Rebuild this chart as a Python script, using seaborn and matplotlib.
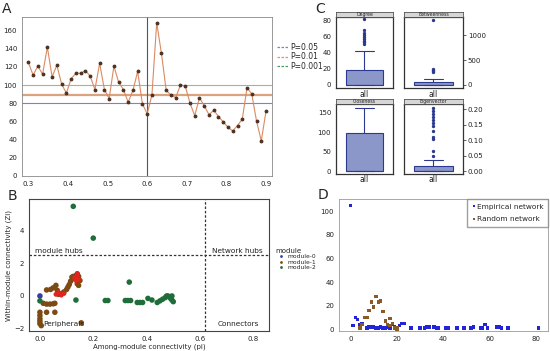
import matplotlib
matplotlib.use("Agg")
import matplotlib.pyplot as plt
import seaborn as sns
import pandas as pd
from matplotlib.lines import Line2D

sns.set_style("white")
plt.rcParams["font.family"] = ["DejaVu Sans"]

# -------------------------
# Panel A data
# -------------------------
a_x = [0.300, 0.312, 0.324, 0.336, 0.348, 0.360, 0.372, 0.384, 0.396, 0.408,
       0.420, 0.432, 0.444, 0.456, 0.468, 0.480, 0.492, 0.504, 0.516, 0.528,
       0.540, 0.552, 0.564, 0.576, 0.588, 0.600, 0.612, 0.624, 0.636, 0.648,
       0.660, 0.672, 0.684, 0.696, 0.708, 0.720, 0.732, 0.744, 0.756, 0.768,
       0.780, 0.792, 0.804, 0.816, 0.828, 0.840, 0.852, 0.864, 0.876, 0.888, 0.900]
a_y = [125, 111, 121, 112, 142, 109, 122, 101, 91, 107,
       113, 113, 116, 110, 95, 124, 95, 85, 121, 103,
       95, 81, 94, 115, 79, 68, 89, 169, 135, 94,
       89, 86, 100, 99, 80, 66, 86, 77, 67, 72,
       65, 59, 53, 49, 55, 62, 97, 90, 60, 38, 71]
a_cut = 0.6
p_labels = ["P=0.05", "P=0.01", "P=0.001"]
p_values = [80, 89, 100]
p_colors = ["#7F7FCF", "#D9A37F", "#8CC08C"]
p_leg_colors = ["#7F7FCF", "#E0906A", "#4E9A6A"]

# -------------------------
# Panel B data
# -------------------------
m0_x = [0.0]
m0_y = [0.0]
m1_x = [0.0, 0.0, 0.0, 0.0, 0.0, 0.005, 0.0125, 0.025, 0.0375, 0.05, 0.056,
        0.025, 0.056, 0.025, 0.04, 0.05, 0.06, 0.065, 0.07, 0.08, 0.09, 0.1,
        0.105, 0.11, 0.115, 0.12, 0.125, 0.13, 0.135, 0.14, 0.145, 0.15,
        0.14, 0.145, 0.155]
m1_y = [-1.0, -1.2, -1.4, -1.55, -1.7, -1.82, -0.45, -0.5, -0.5, -0.48, -0.45,
        -1.0, -1.0, 0.37, 0.4, 0.5, 0.65, 0.35, 0.1, 0.15, 0.25, 0.4,
        0.55, 0.7, 0.9, 1.15, 1.2, 1.05, 1.25, 1.35, 1.2, 0.95,
        0.75, 0.65, -1.65]
m2_x = [0.125, 0.2, 0.335, 0.0, 0.135, 0.245, 0.255, 0.32, 0.33, 0.34, 0.365,
        0.375, 0.385, 0.405, 0.42, 0.44, 0.45, 0.46, 0.47, 0.475, 0.48, 0.485,
        0.49, 0.495, 0.5, 0.495]
m2_y = [5.5, 3.55, 0.85, -0.3, -0.25, -0.28, -0.28, -0.28, -0.28, -0.28, -0.4,
        -0.4, -0.4, -0.15, -0.25, -0.4, -0.3, -0.2, -0.1, 0.0, 0.0, -0.05,
        -0.15, -0.25, -0.35, 0.0]
red_x = [0.06, 0.07, 0.08, 0.09, 0.13, 0.135, 0.14, 0.145, 0.14]
red_y = [0.1, 0.2, 0.05, 0.15, 1.1, 0.95, 1.25, 1.0, 1.38]
zi_cut = 2.5
pi_cut = 0.62

# -------------------------
# Panel C data (node centralities)
# -------------------------
degree = [0] * 30 + [1, 2, 3, 4, 5, 6, 8, 10, 12, 14, 16, 18, 20, 24, 28, 34, 42,
                     51, 53, 55, 57, 59, 62, 65, 68, 82]
betweenness = [0] * 31 + [1, 2, 3, 5, 7, 9, 12, 15, 20, 25, 30, 38, 45, 48, 56,
                          60, 65, 70, 75, 80, 85, 90, 100, 115, 250, 270, 290, 310, 1320]
closeness = [0] * 21 + [5, 10, 20, 35, 50, 65, 80, 90, 97, 99,
                        105, 112, 120, 128, 135, 142, 150, 157, 163]
eigenvector = [0] * 31 + [0.001, 0.002, 0.003, 0.004, 0.005, 0.006, 0.007, 0.008,
                          0.009, 0.01, 0.012, 0.014, 0.016, 0.017, 0.021,
                          0.025, 0.035, 0.05, 0.065, 0.105, 0.11, 0.13, 0.145,
                          0.155, 0.165, 0.175, 0.185, 0.195, 0.205]

# -------------------------
# Panel D data
# -------------------------
emp_x = [0, 1, 2, 3, 4, 5, 5, 7, 8, 9, 10, 11, 12, 13, 14, 15, 16, 17, 18, 19,
         20, 21, 22, 23, 26, 30, 32, 33, 34, 36, 37, 38, 41, 42, 46, 49, 52, 53,
         56, 57, 58, 59, 63, 64, 65, 68, 81]
emp_y = [105, 3, 10, 8, 4, 5, 4, 1, 2, 2, 2, 1, 1, 2, 1, 1, 2, 1, 4, 2,
         1, 3, 5, 5, 1, 1, 1, 2, 2, 2, 1, 1, 1, 1, 1, 1, 1, 2,
         1, 1, 4, 1, 2, 2, 1, 1, 1]
rnd_x = [4, 5, 6, 7, 8, 9, 10, 11, 12, 13, 14, 15, 16, 17, 17, 18, 19, 20, 20]
rnd_y = [1, 4, 10, 10, 16, 23, 19, 28, 23, 24, 15, 7, 4, 9, 3, 5, 1, 1, 0]


fig = plt.figure(figsize=(5.5, 3.51), dpi=100)


def frame(ax, color, lw):
    for s in ax.spines.values():
        s.set_visible(True)
        s.set_color(color)
        s.set_linewidth(lw)
    ax.tick_params(labelsize=5, length=2, width=0.5, pad=1.5, colors="#222222")


# -------------------------
# A: threshold scan
# -------------------------
axA = fig.add_axes([0.04, 0.4986, 0.4545, 0.453])
for v, c, lw in zip(p_values, p_colors, [0.8, 1.6, 0.8]):
    axA.axhline(v, color=c, lw=lw, zorder=1)
axA.axvline(a_cut, color="#555555", lw=0.8, zorder=1)
sns.lineplot(x=a_x, y=a_y, ax=axA, color="#DB8A62", lw=0.8, marker="o",
             markersize=2, markerfacecolor="#4A3020", markeredgecolor="#4A3020",
             zorder=3)
axA.set_xlim(0.284, 0.915)
axA.set_ylim(-1, 175.5)
axA.set_xticks([0.3, 0.4, 0.5, 0.6, 0.7, 0.8, 0.9])
axA.set_yticks(range(0, 161, 20))
frame(axA, "#888888", 0.6)
leg_h = [Line2D([0], [0], color=c, lw=0.9, ls=(0, (2, 1.2))) for c in p_leg_colors]
axA.legend(leg_h, p_labels, loc="upper left", bbox_to_anchor=(273 / 550, 1 - 39 / 351),
           bbox_transform=fig.transFigure, frameon=False, fontsize=5.5,
           handlelength=1.4, handletextpad=0.3, labelspacing=0.05, borderpad=0)
fig.text(0.004, 0.995, "A", fontsize=10, va="top")

# -------------------------
# B: Zi-Pi plot
# -------------------------
axB = fig.add_axes([0.0527, 0.057, 0.4364, 0.376])
zp = pd.DataFrame({
    "pi": m0_x + m1_x + m2_x,
    "zi": m0_y + m1_y + m2_y,
    "module": ["module-0"] * len(m0_x) + ["module-1"] * len(m1_x) + ["module-2"] * len(m2_x),
})
sns.scatterplot(data=zp, x="pi", y="zi", hue="module", ax=axB, s=16,
                palette={"module-0": "#3A3AA8", "module-1": "#7E4A14", "module-2": "#1F6E3A"},
                edgecolor="none", zorder=3)
sns.scatterplot(x=red_x, y=red_y, ax=axB, s=12, color="#E3231E", edgecolor="none",
                zorder=4, legend=False)
axB.axhline(zi_cut, color="#333333", lw=0.9, ls=(0, (2, 1.5)))
axB.axvline(pi_cut, color="#333333", lw=0.9, ls=(0, (2, 1.5)))
axB.set_xlim(-0.041, 0.859)
axB.set_ylim(-2.15, 5.95)
axB.set_xticks([0.0, 0.2, 0.4, 0.6, 0.8])
axB.set_yticks([-2, 0, 2, 4])
axB.set_xlabel("Among-module connectivity (pi)", fontsize=5, labelpad=1.5)
axB.set_ylabel("Within-module connectivity (Zi)", fontsize=5, labelpad=1)
frame(axB, "#444444", 0.8)
for tx, ty, s in [(0.07, 2.78, "module hubs"), (0.74, 2.78, "Network hubs"),
                  (0.09, -1.72, "Peripherals"), (0.745, -1.72, "Connectors")]:
    axB.text(tx, ty, s, fontsize=5.3, ha="center", va="center", color="#222222")
h, l = axB.get_legend_handles_labels()
axB.legend(h, l, title="module", loc="upper left", bbox_to_anchor=(272 / 550, 1 - 245 / 351),
           bbox_transform=fig.transFigure, frameon=False, fontsize=4.3, title_fontsize=5,
           markerscale=0.5, handletextpad=0.1, labelspacing=0.05, borderpad=0,
           alignment="left")
fig.text(0.014, 1 - 189 / 351, "B", fontsize=10, va="top")

# -------------------------
# C: centrality boxplots
# -------------------------
c_panels = [
    ("Degree", degree, [0.6109, 0.7493, 0.1036, 0.2023], (-4, 84.5), [0, 20, 40, 60, 80], "left"),
    ("Betweenness", betweenness, [0.7345, 0.7493, 0.1073, 0.2023], (-66, 1374), [0, 500, 1000], "right"),
    ("Closeness", closeness, [0.6109, 0.505, 0.1036, 0.1994], (-6.9, 173.7), [0, 50, 100, 150], "left"),
    ("Eigenvector", eigenvector, [0.7345, 0.505, 0.1073, 0.1994], (-0.0086, 0.218),
     [0.0, 0.05, 0.10, 0.15, 0.20], "right"),
]
for name, vals, rect, ylim, yt, side in c_panels:
    ax = fig.add_axes(rect)
    sns.boxplot(x=["all"] * len(vals), y=vals, ax=ax, color="#8C97C9", saturation=1,
                width=0.65, linecolor="#2B3990", linewidth=0.8,
                flierprops={"marker": "o", "markersize": 1.4, "markerfacecolor": "#2B3990",
                            "markeredgecolor": "#2B3990"})
    ax.set_ylim(*ylim)
    ax.set_yticks(yt)
    if name == "Eigenvector":
        ax.set_yticklabels([f"{t:.2f}" for t in yt])
    ax.set_xlabel("")
    ax.set_ylabel("")
    frame(ax, "#333333", 0.9)
    ax.tick_params(axis="x", labelsize=5.5, pad=0.2, length=1)
    if side == "right":
        ax.yaxis.tick_right()
    # facet strip
    sx = fig.add_axes([rect[0], rect[1] + rect[3], rect[2], 0.013])
    sx.set_facecolor("#D6D6D6")
    sx.set_xticks([])
    sx.set_yticks([])
    for s in sx.spines.values():
        s.set_color("#555555")
        s.set_linewidth(0.6)
    sx.text(0.5, 0.45, name, fontsize=3.3, ha="center", va="center", transform=sx.transAxes)
fig.text(0.573, 0.995, "C", fontsize=10, va="top")

# -------------------------
# D: degree distribution
# -------------------------
axD = fig.add_axes([0.6164, 0.057, 0.38, 0.376])
dd = pd.DataFrame({
    "degree": emp_x + rnd_x,
    "count": emp_y + rnd_y,
    "network": ["Empirical network"] * len(emp_x) + ["Random network"] * len(rnd_x),
})
sns.scatterplot(data=dd, x="degree", y="count", hue="network", ax=axD, marker="s", s=6,
                palette={"Empirical network": "#2323D8", "Random network": "#8A5A28"},
                edgecolor="none")
axD.set_xlim(-5, 85.2)
axD.set_ylim(-1.5, 110.5)
axD.set_xticks([0, 20, 40, 60, 80])
axD.set_yticks([0, 20, 40, 60, 80, 100])
axD.set_xlabel("")
axD.set_ylabel("")
frame(axD, "#999999", 0.6)
axD.legend(loc="upper right", fontsize=5.3, frameon=True, fancybox=False, edgecolor="#888888",
           borderaxespad=0, handletextpad=0, handlelength=0.8, markerscale=0.8,
           borderpad=0.6, labelspacing=0.9)
fig.text(0.577, 1 - 188 / 351, "D", fontsize=10, va="top")

fig.savefig("out.png", dpi=100)
